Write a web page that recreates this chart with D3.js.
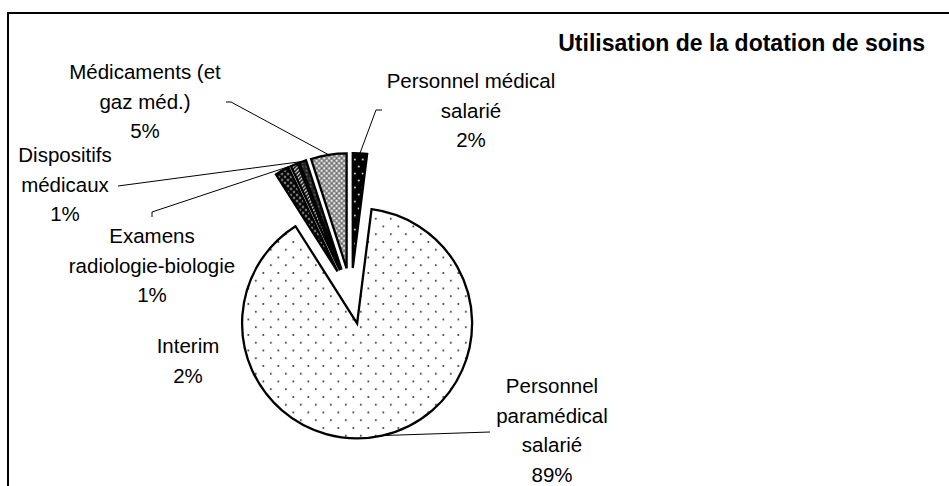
<!DOCTYPE html>
<meta charset="UTF-8">
<head>
  <script src="https://d3js.org/d3.v7.min.js"></script>
  <style>
    body { margin: 0; background: #fff; }
    text { font-family: "Liberation Sans", Arial, sans-serif; fill: #000; }
  </style>
</head>
<body>
  <svg id="svg" width="949" height="486"></svg>
  <script>
    // slices, clockwise from 12 o'clock
    const categories = ["Personnel médical salarié", "Personnel paramédical salarié", "Interim",
      "Examens radiologie-biologie", "Dispositifs médicaux", "Médicaments (et gaz méd.)"];
    const values = [2, 89, 2, 1, 1, 5];
    const labelLines = [
      ["Personnel médical", "salarié"],
      ["Personnel", "paramédical", "salarié"],
      ["Interim"],
      ["Examens", "radiologie-biologie"],
      ["Dispositifs", "médicaux"],
      ["Médicaments (et", "gaz méd.)"]
    ];
    const fills = ["url(#pMed)", "url(#pPara)", "url(#pInt)", "url(#pExa)", "url(#pDis)", "url(#pMdc)"];
    const title = "Utilisation de la dotation de soins";

    // where the labels sit (x centre, first baseline) and where their leaders start
    const labelPos = [[471, 88], [552, 393], [188, 353], [152, 243], [65, 162], [145, 79]];
    const leaderStart = [
      [[382, 110], [376, 110]],
      [[490, 432]],
      null,
      [[152, 217], [152, 212]],
      [[118, 186]],
      [[226, 102], [231, 102]]
    ];

    const svg = d3.select("#svg");
    const cx = 351, cy = 296, radius = 115, explode = 28, lineH = 29.5;

    const defs = svg.append("defs");
    function pattern(id, w, h, bg, build) {
      const p = defs.append("pattern").attr("id", id).attr("patternUnits", "userSpaceOnUse")
        .attr("width", w).attr("height", h);
      p.append("rect").attr("width", w).attr("height", h).attr("fill", bg);
      build(p);
    }
    pattern("pPara", 15, 15.5, "#fff", p => {
      p.append("circle").attr("cx", 3.75).attr("cy", 3.9).attr("r", 1).attr("fill", "#333");
      p.append("circle").attr("cx", 11.25).attr("cy", 11.6).attr("r", 1).attr("fill", "#333");
    });
    pattern("pInt", 6, 6, "#000", p => {
      p.append("circle").attr("cx", 1.5).attr("cy", 1.5).attr("r", 0.9).attr("fill", "#fff");
      p.append("circle").attr("cx", 4.5).attr("cy", 4.5).attr("r", 0.9).attr("fill", "#fff");
    });
    pattern("pMed", 8, 14, "#000", p => {
      p.append("circle").attr("cx", 2).attr("cy", 3.5).attr("r", 0.9).attr("fill", "#fff");
      p.append("circle").attr("cx", 6).attr("cy", 10.5).attr("r", 0.9).attr("fill", "#fff");
    });
    pattern("pExa", 4, 4, "#fff", p => {
      p.append("path").attr("d", "M-1,1 L1,-1 M0,4 L4,0 M3,5 L5,3").attr("stroke", "#000").attr("stroke-width", 1.6);
    });
    pattern("pDis", 4, 4, "#222", p => {
      p.append("circle").attr("cx", 1).attr("cy", 1).attr("r", 0.7).attr("fill", "#bbb");
    });
    pattern("pMdc", 5, 5, "#fff", p => {
      p.append("path").attr("d", "M0,0 L5,5 M5,0 L0,5").attr("stroke", "#666").attr("stroke-width", 1.3);
    });

    // chart frame (right and bottom edges fall outside the picture)
    svg.append("path").attr("d", "M8,486 V13 H949")
      .attr("fill", "none").attr("stroke", "#000").attr("stroke-width", 2);

    svg.append("text").attr("x", 925).attr("y", 51).attr("text-anchor", "end")
      .style("font-size", "23px").style("font-weight", "bold").text(title);

    const pie = d3.pie().sort(null).startAngle(0).endAngle(2 * Math.PI);
    const arcs = pie(values);
    const arc = d3.arc().innerRadius(0).outerRadius(radius);

    function offset(d) {
      const a = (d.startAngle + d.endAngle) / 2;
      return [cx + explode * Math.sin(a), cy - explode * Math.cos(a)];
    }

    svg.append("g").selectAll("path").data(arcs).join("path")
      .attr("transform", d => "translate(" + offset(d) + ")")
      .attr("d", arc)
      .attr("fill", (d, i) => fills[i])
      .attr("stroke", "#000").attr("stroke-width", 2.3).attr("stroke-linejoin", "miter");

    // leader lines to the middle of each slice's rim
    arcs.forEach((d, i) => {
      if (!leaderStart[i]) return;
      const a = (d.startAngle + d.endAngle) / 2;
      const o = offset(d);
      const end = [o[0] + radius * Math.sin(a), o[1] - radius * Math.cos(a)];
      svg.append("path").attr("d", d3.line()(leaderStart[i].concat([end])))
        .attr("fill", "none").attr("stroke", "#000").attr("stroke-width", 1);
    });

    arcs.forEach((d, i) => {
      const t = svg.append("text").attr("text-anchor", "middle").style("font-size", "20.5px");
      labelLines[i].concat([values[i] + "%"]).forEach((s, k) => {
        t.append("tspan").attr("x", labelPos[i][0]).attr("y", labelPos[i][1] + k * lineH).text(s);
      });
    });
  </script>
</body>
